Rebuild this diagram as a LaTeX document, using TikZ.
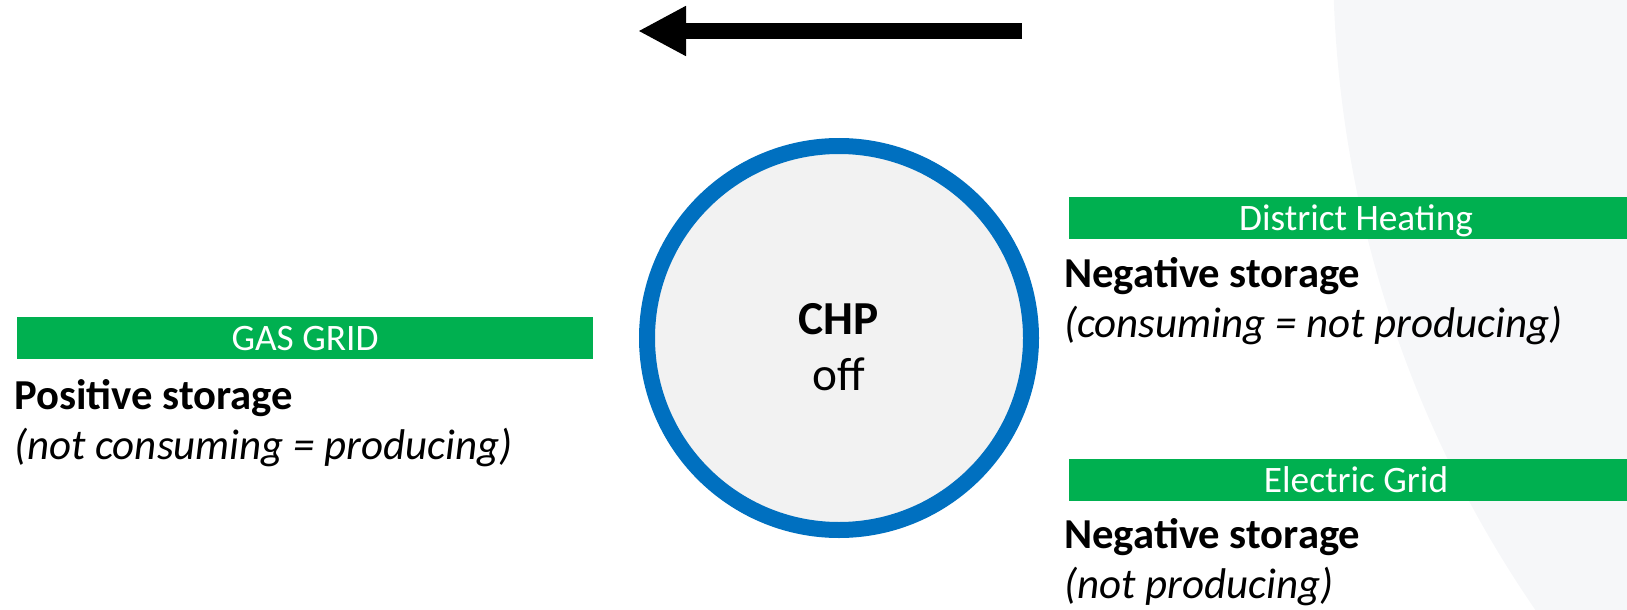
\documentclass[tikz,border=0pt]{standalone}
\usepackage{fontspec}
\setmainfont{Carlito}
\usetikzlibrary{arrows.meta}
\definecolor{barGreen}{HTML}{00B050}
\definecolor{ringBlue}{HTML}{0070C0}
\definecolor{discFill}{HTML}{F2F2F2}
\definecolor{panelGray}{HTML}{F6F7F9}
\begin{document}
\begin{tikzpicture}[x=0.75pt,y=-0.75pt,
  bar/.style={fill=barGreen, draw=none, inner sep=0pt, minimum height=31pt, anchor=north west},
  barlabel/.style={text=white, font=\fontsize{28}{34}\selectfont, anchor=base, inner sep=0pt},
  headline/.style={font=\fontsize{32}{38}\selectfont\bfseries, anchor=base west, inner sep=0pt},
  subline/.style={font=\fontsize{32.2}{38}\selectfont\itshape, anchor=base west, inner sep=0pt},
  flow/.style={line width=12pt, -{Triangle[length=36pt,width=35pt]}},
]
\useasboundingbox (0,0) rectangle (1627,610);

% pale backdrop arc on the right
\begin{scope}
  \clip (0,0) rectangle (1627,610);
  \fill[panelGray] (2487,-43) circle[radius=865.5pt];
\end{scope}

% direction arrow
\coordinate (arrowtail) at (1022,31);
\coordinate (arrowtip) at (638,31);
\draw[flow] (arrowtail) -- (arrowtip);

% CHP unit
\node[circle, draw=ringBlue, line width=12pt, fill=discFill,
      minimum size=288pt, inner sep=0pt] (chp) at (839,338) {};
\node[font=\fontsize{35.5}{42}\selectfont\bfseries, anchor=base, inner sep=0pt]
  (chpname) at (839,334) {CHP};
\node[font=\fontsize{35.5}{42}\selectfont, anchor=base, inner sep=0pt]
  (chpstate) at (839,390) {off};

% gas grid side
\node[bar, minimum width=432pt] (gasbar) at (17,317) {};
\node[barlabel] (gaslabel) at (305,350) {GAS GRID};
\node[headline] (gashead) at (14,409) {Positive storage};
\node[subline] (gassub) at (14,459) {(not consuming = producing)};

% district heating side
\node[bar, minimum width=418.5pt] (heatbar) at (1069,197) {};
\node[barlabel] (heatlabel) at (1356,230) {District Heating};
\node[headline] (heathead) at (1064,287) {Negative storage};
\node[subline] (heatsub) at (1064,337) {(consuming = not producing)};

% electric grid side
\node[bar, minimum width=418.5pt] (elecbar) at (1069,459) {};
\node[barlabel] (eleclabel) at (1356,492) {Electric Grid};
\node[headline] (elechead) at (1064,548) {Negative storage};
\node[subline] (elecsub) at (1064,598) {(not producing)};
\end{tikzpicture}
\end{document}
